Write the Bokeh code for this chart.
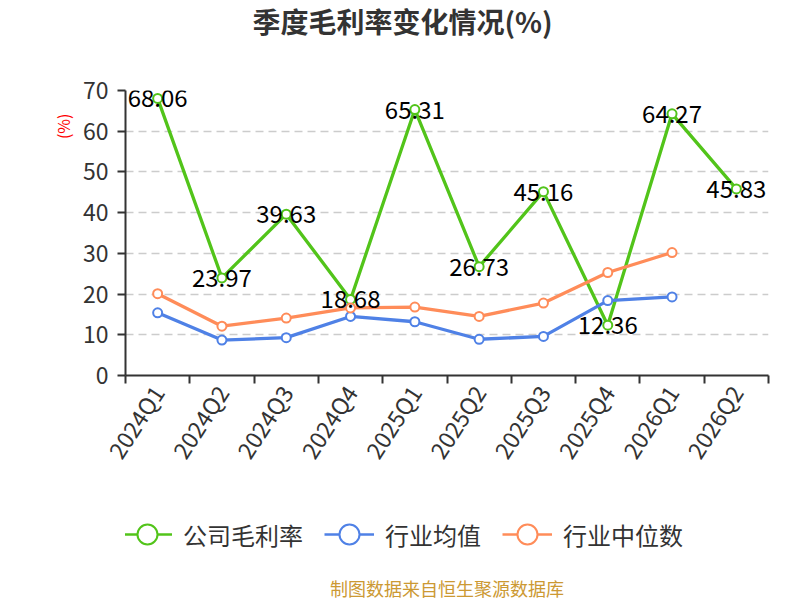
import math
from bokeh.plotting import figure
from bokeh.layouts import column
from bokeh.models import (ColumnDataSource, FixedTicker, Range1d, Legend, LegendItem,
                          Title, LabelSet)
from bokeh.core.properties import value
from bokeh.embed import file_html
from bokeh.resources import INLINE

quarters = ["2024Q1", "2024Q2", "2024Q3", "2024Q4", "2025Q1", "2025Q2",
            "2025Q3", "2025Q4", "2026Q1", "2026Q2"]
company_margin = [68.06, 23.97, 39.63, 18.68, 65.31, 26.73, 45.16, 12.36, 64.27, 45.83]
industry_avg = [15.4, 8.7, 9.3, 14.5, 13.2, 8.9, 9.6, 18.4, 19.3]
industry_median = [20.1, 12.1, 14.1, 16.6, 16.8, 14.5, 17.8, 25.3, 30.2]
y_ticks = [0, 10, 20, 30, 40, 50, 60, 70]
series_names = ["公司毛利率", "行业均值", "行业中位数"]
title_text = "季度毛利率变化情况(%)"
source_text = "制图数据来自恒生聚源数据库"
y_unit = "(%)"

GREEN = "#52c41a"
BLUE = "#4f81e6"
ORANGE = "#ff8c59"
COLORS = [GREEN, BLUE, ORANGE]
FONT = "Noto Sans CJK SC"
TXT = "#333333"

xi = list(range(len(quarters)))
series = [company_margin, industry_avg, industry_median]

# ---------------- main chart ----------------
p = figure(width=784, height=490, output_backend="svg", toolbar_location=None,
           x_range=Range1d(-0.5, len(quarters) - 0.5), y_range=Range1d(0, 70),
           min_border_left=125, min_border_right=16, min_border_top=90,
           min_border_bottom=115, title=None)
p.outline_line_color = None
p.background_fill_color = "white"
p.border_fill_color = "white"

# top: spacer (nearest the frame) then the chart title
p.add_layout(Title(text=" ", text_font_size="12px", standoff=32), "above")
p.add_layout(Title(text=title_text, text_font=FONT, text_font_size="28px",
                   text_font_style="bold", text_color=TXT, align="left", offset=127,
                   standoff=0, vertical_align="top"),
             "above")

xa = p.xaxis[0]
xa.ticker = FixedTicker(ticks=xi, minor_ticks=[i - 0.5 for i in range(len(quarters) + 1)])
xa.major_label_overrides = {i: q for i, q in zip(xi, quarters)}
xa.major_tick_line_color = None
xa.major_tick_out = 0
xa.major_tick_in = 0
xa.minor_tick_out = 8
xa.minor_tick_in = 0
xa.minor_tick_line_color = TXT
xa.minor_tick_line_width = 2
xa.axis_line_color = TXT
xa.axis_line_width = 2
xa.major_label_orientation = math.radians(57)
xa.major_label_text_font = FONT
xa.major_label_text_font_size = "23px"
xa.major_label_text_color = TXT
xa.major_label_standoff = 4

ya = p.yaxis[0]
ya.ticker = FixedTicker(ticks=y_ticks)
ya.minor_tick_line_color = None
ya.major_tick_out = 8
ya.major_tick_in = 0
ya.major_tick_line_color = TXT
ya.major_tick_line_width = 2
ya.axis_line_color = TXT
ya.axis_line_width = 2
ya.major_label_text_font = FONT
ya.major_label_text_font_size = "23px"
ya.major_label_text_color = TXT
ya.major_label_standoff = 9

p.add_layout(Title(text=y_unit, text_font=FONT, text_font_size="16px",
                   text_font_style="normal", text_color="red", align="right",
                   offset=23, standoff=10), "left")

p.xgrid.grid_line_color = None
p.ygrid.grid_line_color = "#cccccc"
p.ygrid.grid_line_dash = "8 5"
p.ygrid.grid_line_width = 1.5

for vals, color in zip(series, COLORS):
    src = ColumnDataSource(dict(x=xi[:len(vals)], y=vals))
    p.line("x", "y", source=src, line_color=color, line_width=3.3)
    p.scatter("x", "y", source=src, size=9, fill_color="white",
              line_color=color, line_width=2)

lab_src = ColumnDataSource(dict(x=xi, y=company_margin,
                                t=["%.2f" % v for v in company_margin]))
p.add_layout(LabelSet(x="x", y="y", text="t", source=lab_src, text_align="center",
                      text_baseline="middle", text_font=value(FONT),
                      text_font_size=value("24px"), text_color="black"))

# ---------------- legend + source strip ----------------
# its ranges lie away from the data, so only the legend glyphs show
p2 = figure(width=784, height=110, output_backend="svg", toolbar_location=None,
            x_range=Range1d(1000, 1001), y_range=Range1d(1000, 1001),
            x_axis_location=None, y_axis_location=None, title=None,
            min_border_left=0, min_border_right=0, min_border_top=0, min_border_bottom=0)
p2.outline_line_color = None
p2.grid.visible = False
p2.background_fill_color = "white"
p2.border_fill_color = "white"

items = []
for name, vals, color in zip(series_names, series, COLORS):
    lsrc = ColumnDataSource(dict(x=xi[:len(vals)], y=vals))
    ln = p2.line("x", "y", source=lsrc, line_color=color, line_width=2.5)
    sc = p2.scatter("x", "y", source=lsrc, size=9, fill_color="white",
                    line_color=color, line_width=2)
    items.append(LegendItem(label=name, renderers=[ln, sc]))

legend = Legend(items=items, orientation="horizontal", location=(-3, 13),
                glyph_width=50, glyph_height=50,
                label_text_font=FONT, label_text_font_size="24px", label_text_color=TXT,
                label_standoff=11, spacing=21, border_line_color=None,
                background_fill_alpha=0, margin=0, padding=0)
p2.add_layout(legend, "center")
p2.add_layout(Title(text=source_text, align="center", text_color="#cc9933",
                    text_font=FONT, text_font_size="18px", text_font_style="normal",
                    standoff=0), "below")

layout = column(p, p2, spacing=0)
open("out.html", "w").write(file_html(layout, INLINE))
